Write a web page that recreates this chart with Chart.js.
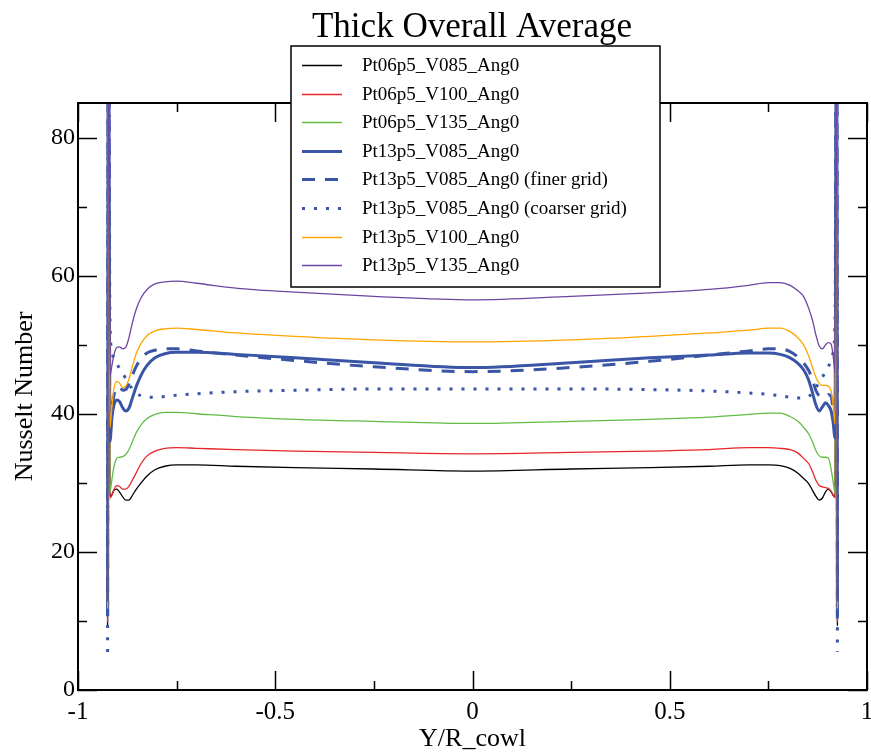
<!DOCTYPE html>
<html>
<head>
<meta charset="utf-8">
<title>Thick Overall Average</title>
<script src="https://cdn.jsdelivr.net/npm/chart.js@4.4.0/dist/chart.umd.min.js"></script>
<style>
  body { margin: 0; background: #fff; }
  canvas { display: block; }
</style>
</head>
<body>
<canvas id="nuChart" width="871" height="755"></canvas>
<script>
const yOverR = [-0.925, -0.923, -0.919, -0.914, -0.909, -0.902, -0.895, -0.887, -0.879, -0.871, -0.862,
                -0.852, -0.84, -0.825, -0.805, -0.78, -0.75, -0.7, -0.6, -0.45, -0.25, 0,
                0.25, 0.45, 0.6, 0.7, 0.75, 0.78, 0.805, 0.825, 0.84, 0.852, 0.862, 0.871, 0.879,
                0.887, 0.895, 0.902, 0.909, 0.914, 0.919, 0.923, 0.925];

// Nusselt number, one array per case
const pt06V085 = [9.3, 120, 28.0, 28.3, 28.9, 29.1, 28.7, 28.0, 27.5, 27.5, 28.2, 29.1, 30.0, 31.0, 31.9, 32.4, 32.6, 32.6, 32.4, 32.2, 32.0,
                  31.7,
                  32.0, 32.2, 32.4, 32.6, 32.6, 32.5, 32.1, 31.4, 30.6, 29.9, 28.9, 28.0, 27.5, 27.8, 28.7, 29.1, 28.7, 28.2, 27.9, 120, 9.3];
const pt06V100 = [9.8, 120, 27.8, 28.2, 29.0, 29.6, 29.5, 29.1, 29.1, 29.5, 30.4, 31.5, 32.8, 33.9, 34.6, 35.0, 35.1, 35.0, 34.8, 34.6, 34.4,
                  34.2,
                  34.4, 34.6, 34.8, 35.1, 35.1, 35.0, 34.8, 34.3, 33.5, 32.8, 31.6, 30.3, 29.6, 29.4, 29.3, 29.2, 28.8, 28.3, 27.9, 120, 9.8];
const pt06V135 = [11.2, 120, 28.7, 30.5, 32.3, 33.5, 33.7, 33.8, 34.1, 34.8, 36.0, 37.3, 38.4, 39.3, 39.9, 40.2, 40.2, 40.0, 39.6, 39.2, 38.9,
                  38.6,
                  38.9, 39.2, 39.5, 39.9, 40.1, 40.1, 39.6, 38.9, 38.0, 37.1, 35.9, 34.6, 33.9, 33.7, 33.7, 33.6, 32.0, 30.2, 28.5, 120, 11.2];
const pt13V085 = [10.7, 120, 36.0, 39.5, 41.2, 42.0, 41.8, 40.9, 40.4, 40.8, 42.3, 44.0, 45.6, 47.0, 48.1, 48.7, 48.9, 48.9, 48.6, 48.1, 47.4,
                  46.7,
                  47.4, 48.1, 48.5, 48.8, 48.8, 48.6, 48.1, 47.3, 46.3, 44.9, 43.0, 41.2, 40.4, 41.0, 41.6, 41.2, 40.4, 38.8, 36.5, 120, 10.7];
const pt13V085Fine = [10.8, 120, 37.0, 40.5, 42.6, 43.8, 43.9, 43.4, 43.5, 44.3, 45.6, 46.9, 48.0, 48.8, 49.2, 49.4, 49.4, 49.1, 48.5, 47.7, 46.8,
                      46.1,
                      46.7, 47.6, 48.5, 49.1, 49.4, 49.4, 49.0, 48.2, 47.3, 46.3, 44.9, 43.3, 42.6, 42.4, 42.5, 42.8, 42.5, 40.5, 37.5, 120, 10.8];
const pt13V085Coarse = [5.5, 120, 54.0, 48.9, 48.0, 47.3, 46.6, 45.9, 45.1, 44.3, 43.6, 43.0, 42.6, 42.4, 42.4, 42.5, 42.7, 42.9, 43.2, 43.4, 43.6,
                        43.6,
                        43.6, 43.5, 43.3, 43.0, 42.8, 42.6, 42.4, 42.3, 42.3, 42.5, 43.0, 43.8, 44.6, 45.3, 46.1, 46.8, 47.8, 48.8, 54.0, 120, 5.5];
const pt13V100 = [11.8, 120, 38.0, 41.0, 43.6, 44.7, 44.5, 43.8, 44.0, 45.0, 46.9, 48.8, 50.2, 51.3, 52.0, 52.3, 52.4, 52.2, 51.7, 51.2, 50.7,
                  50.4,
                  50.7, 51.2, 51.7, 52.1, 52.4, 52.4, 51.9, 51.0, 49.9, 48.4, 46.7, 45.2, 44.4, 44.1, 44.1, 44.0, 43.3, 41.2, 38.5, 120, 11.8];
const pt13V135 = [12.8, 120, 45.5, 47.0, 48.5, 49.6, 49.7, 49.4, 49.6, 51.0, 53.2, 55.2, 56.8, 58.0, 58.8, 59.1, 59.2, 58.9, 58.2, 57.6, 57.0,
                  56.5,
                  57.0, 57.5, 58.0, 58.6, 59.0, 59.0, 58.6, 57.8, 56.9, 55.3, 53.5, 51.3, 49.8, 49.4, 50.0, 50.3, 50.1, 48.5, 46.0, 120, 12.8];

const seriesLabels = ['Pt06p5_V085_Ang0', 'Pt06p5_V100_Ang0', 'Pt06p5_V135_Ang0', 'Pt13p5_V085_Ang0',
                      'Pt13p5_V085_Ang0 (finer grid)', 'Pt13p5_V085_Ang0 (coarser grid)', 'Pt13p5_V100_Ang0', 'Pt13p5_V135_Ang0'];

// tick positions for the inward xmgrace style ticks
const xTicks = [-1, -0.75, -0.5, -0.25, 0, 0.25, 0.5, 0.75, 1];
const yTicks = [0, 10, 20, 30, 40, 50, 60, 70, 80];

const serif = '"Liberation Serif", "Times New Roman", serif';

function toPoints(values) {
    return yOverR.map((x, i) => ({ x: x, y: values[i] }));
}

function makeSet(label, values, color, width, dash, order) {
    return {
        label: label,
        data: toPoints(values),
        borderColor: color,
        backgroundColor: color,
        borderWidth: width,
        borderDash: dash,
        borderCapStyle: 'butt',
        pointRadius: 0,
        showLine: true,
        fill: false,
        cubicInterpolationMode: 'monotone',
        order: order
    };
}

const datasets = [
    makeSet(seriesLabels[0], pt06V085, '#000000', 1.3, [], 7),
    makeSet(seriesLabels[1], pt06V100, '#e8262a', 1.3, [], 6),
    makeSet(seriesLabels[2], pt06V135, '#62bb45', 1.3, [], 5),
    makeSet(seriesLabels[3], pt13V085, '#3a55a6', 3, [], 4),
    makeSet(seriesLabels[4], pt13V085Fine, '#3a55a6', 3, [13, 10], 3),
    makeSet(seriesLabels[5], pt13V085Coarse, '#3a55a6', 3, [3, 9], 2),
    makeSet(seriesLabels[6], pt13V100, '#ffa500', 1.3, [], 1),
    makeSet(seriesLabels[7], pt13V135, '#6e45a3', 1.3, [], 0)
];

// frame, inward ticks, boxed legend and title drawn like the original plot
const graceStyle = {
    id: 'graceStyle',
    afterDatasetsDraw(chart) {
        const { ctx, chartArea: a, scales } = chart;
        ctx.save();
        ctx.strokeStyle = '#000';
        ctx.lineWidth = 1.5;
        ctx.setLineDash([]);
        ctx.beginPath();
        xTicks.forEach(v => {
            const px = Math.round(scales.x.getPixelForValue(v)) + 0.5;
            const len = (v * 2) % 1 === 0 ? 19 : 9;
            ctx.moveTo(px, a.bottom); ctx.lineTo(px, a.bottom - len);
            ctx.moveTo(px, a.top); ctx.lineTo(px, a.top + len);
        });
        yTicks.forEach(v => {
            const py = Math.round(scales.y.getPixelForValue(v)) + 0.5;
            const len = v % 20 === 0 ? 19 : 9;
            ctx.moveTo(a.left, py); ctx.lineTo(a.left + len, py);
            ctx.moveTo(a.right, py); ctx.lineTo(a.right - len, py);
        });
        ctx.stroke();
        ctx.lineWidth = 2;
        ctx.strokeRect(a.left, a.top, a.right - a.left, a.bottom - a.top);
        ctx.restore();
    },
    afterDraw(chart) {
        const ctx = chart.ctx;
        ctx.save();
        // legend box
        const bx = 291, by = 46, bw = 369, bh = 241;
        ctx.fillStyle = '#fff';
        ctx.fillRect(bx, by, bw, bh);
        ctx.strokeStyle = '#000';
        ctx.lineWidth = 1.5;
        ctx.strokeRect(bx, by, bw, bh);
        ctx.font = '19px ' + serif;
        ctx.textBaseline = 'middle';
        ctx.textAlign = 'left';
        datasets.forEach((ds, i) => {
            const ry = Math.round(65 + i * 28.6) + 0.5;
            ctx.strokeStyle = ds.borderColor;
            ctx.lineWidth = ds.borderWidth;
            ctx.setLineDash(ds.borderDash);
            ctx.lineCap = 'butt';
            ctx.beginPath();
            ctx.moveTo(302, ry);
            ctx.lineTo(342, ry);
            ctx.stroke();
            ctx.fillStyle = '#000';
            ctx.fillText(ds.label, 362, ry + 1);
        });
        ctx.setLineDash([]);
        // title
        ctx.font = '35px ' + serif;
        ctx.textAlign = 'center';
        ctx.textBaseline = 'alphabetic';
        ctx.fillStyle = '#000';
        ctx.fillText('Thick Overall Average', 472, 37);
        ctx.restore();
    }
};

Chart.defaults.font.family = serif;
Chart.defaults.color = '#000';

const ctx = document.getElementById('nuChart').getContext('2d');
const chart = new Chart(ctx, {
    type: 'scatter',
    data: { datasets: datasets },
    options: {
        responsive: false,
        animation: false,
        devicePixelRatio: 1,
        layout: { padding: { top: 103, right: 4, left: 0, bottom: 0 } },
        plugins: {
            legend: { display: false },
            title: { display: false },
            tooltip: { enabled: false }
        },
        scales: {
            x: {
                type: 'linear',
                min: -1,
                max: 1,
                grid: { display: false, tickLength: 0 },
                border: { display: false },
                ticks: { stepSize: 0.5, padding: 7, font: { size: 25 }, maxRotation: 0,
                         callback: v => String(v) },
                title: { display: true, text: 'Y/R_cowl', font: { size: 26 }, padding: { top: 0, bottom: 0 } },
                afterFit(scale) {
                    scale.height = 65;
                    scale.paddingLeft = 0;
                    scale.paddingRight = 0;
                }
            },
            y: {
                type: 'linear',
                min: 0,
                max: 85,
                grid: { display: false, tickLength: 0 },
                border: { display: false },
                ticks: { stepSize: 20, padding: 3, font: { size: 24 }, includeBounds: false },
                title: { display: true, text: 'Nusselt Number', font: { size: 26 }, padding: { top: 10, bottom: 0 } },
                afterFit(scale) {
                    scale.width = 78;
                    scale.paddingTop = 0;
                    scale.paddingBottom = 0;
                }
            }
        }
    },
    plugins: [graceStyle]
});
</script>
</body>
</html>
